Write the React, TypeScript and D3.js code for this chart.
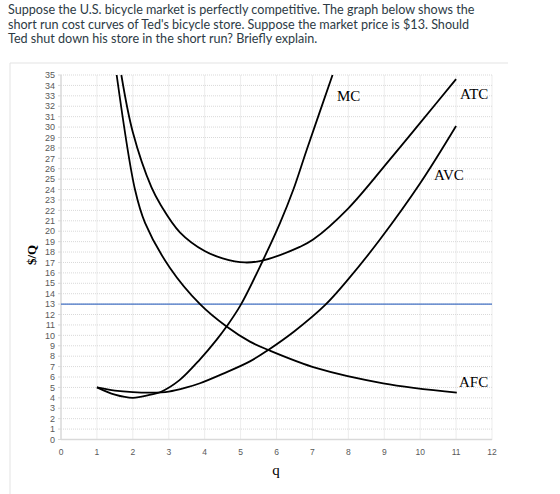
import React from "react";
import * as d3 from "d3";

const W = 560;
const H = 494;

const headerLines = [
  "Suppose the U.S. bicycle market is perfectly competitive. The graph below shows the",
  "short run cost curves of Ted's bicycle store. Suppose the market price is $13. Should",
  "Ted shut down his store in the short run? Briefly explain.",
];

const xTicks = [0, 1, 2, 3, 4, 5, 6, 7, 8, 9, 10, 11, 12];
const yTicks = [0, 1, 2, 3, 4, 5, 6, 7, 8, 9, 10, 11, 12, 13, 14, 15, 16, 17, 18, 19, 20, 21, 22, 23, 24, 25, 26, 27, 28, 29, 30, 31, 32, 33, 34, 35];

const marketPrice = 13;

const mcQ = [1, 1.5, 2, 2.5, 2.76, 3.3, 3.87, 4.33, 4.61, 5, 5.63, 6.1, 6.47, 6.84, 7.56];
const mcV = [5, 4.3, 4.0, 4.3, 4.54, 5.7, 7.7, 9.57, 10.85, 12.9, 17.26, 20.8, 24.0, 27.8, 35];

const avcQ = [1, 1.5, 2, 2.5, 3, 3.5, 3.87, 4.5, 5.26, 5.77, 6.5, 7.35, 8, 8.88, 10, 11];
const avcV = [5, 4.7, 4.55, 4.5, 4.6, 5.0, 5.4, 6.3, 7.5, 8.6, 10.4, 12.9, 15.4, 19.2, 24.6, 30.1];

const atcQ = [1.68, 2, 2.52, 2.78, 3.31, 4, 4.5, 5.12, 5.63, 6.65, 7.02, 8, 9.16, 10, 11];
const atcV = [35, 29.5, 24.2, 22.5, 19.9, 18.1, 17.4, 17.0, 17.2, 18.5, 19.2, 22.2, 26.9, 30.4, 34.6];

const afcQ = [1.55, 2.06, 2.34, 3.03, 3.87, 4.61, 5.26, 5.77, 7.12, 8.97, 11.02];
const afcV = [35, 24.0, 20.8, 16.5, 13, 10.85, 9.4, 8.6, 6.85, 5.4, 4.5];

const curveLabels = ["MC", "ATC", "AVC", "AFC"];

export default function App() {
  const x = d3.scaleLinear().domain([0, 12]).range([61, 492]);
  const y = d3.scaleLinear().domain([0, 35]).range([439.5, 75]);

  const line = d3
    .line<[number, number]>()
    .x((d) => x(d[0]))
    .y((d) => y(d[1]))
    .curve(d3.curveCatmullRom.alpha(0.5));

  const zip = (a: number[], b: number[]) => a.map((v, i) => [v, b[i]] as [number, number]);

  const series = [
    zip(mcQ, mcV),
    zip(atcQ, atcV),
    zip(avcQ, avcV),
    zip(afcQ, afcV),
  ];

  const labelPos: [number, number][] = [
    [337, 101],
    [460, 99],
    [434, 180],
    [459, 387],
  ];

  const grid = "#d9d9d9";
  const tickColor = "#595959";

  return (
    <svg
      width={W}
      height={H}
      style={{ position: "absolute", left: 0, top: 0, background: "#fff" }}
    >
      {headerLines.map((t, i) => (
        <text
          key={i}
          x={8}
          y={14 + i * 14.5}
          fontFamily="Lato"
          fontSize={12.6}
          fill="#2d3b45"
        >
          {t}
        </text>
      ))}
      {/* frame */}
      <line x1={10} x2={508} y1={63} y2={63} stroke="#e3e3e3" />
      <line x1={10} x2={10} y1={63} y2={494} stroke="#e3e3e3" />

      {/* gridlines */}
      {yTicks.slice(1).map((t) => (
        <line
          key={"h" + t}
          x1={x(0)}
          x2={x(12)}
          y1={y(t)}
          y2={y(t)}
          stroke={grid}
          strokeWidth={1}
          strokeDasharray="1,1"
        />
      ))}
      {xTicks.slice(1).map((t) => (
        <line
          key={"v" + t}
          x1={x(t)}
          x2={x(t)}
          y1={y(0)}
          y2={y(35)}
          stroke={grid}
          strokeWidth={1}
          strokeDasharray="1,1"
        />
      ))}

      {/* axes */}
      <line x1={x(0)} x2={x(12)} y1={y(0)} y2={y(0)} stroke="#d9d9d9" strokeWidth={1.5} />
      <line x1={x(0)} x2={x(0)} y1={y(0)} y2={y(35)} stroke="#d9d9d9" strokeWidth={1.5} />
      {yTicks.map((t) => (
        <g key={"yt" + t}>
          <line x1={x(0) - 3} x2={x(0)} y1={y(t)} y2={y(t)} stroke="#d9d9d9" />
          <text
            x={55}
            y={y(t) + 3.2}
            textAnchor="end"
            fontFamily="Liberation Sans"
            fontSize={9}
            fill={tickColor}
          >
            {t}
          </text>
        </g>
      ))}
      {xTicks.map((t) => (
        <text
          key={"xt" + t}
          x={x(t)}
          y={455}
          textAnchor="middle"
          fontFamily="Liberation Sans"
          fontSize={8.5}
          fill={tickColor}
        >
          {t}
        </text>
      ))}

      {/* axis titles */}
      <text
        transform="translate(36,255) rotate(-90)"
        textAnchor="middle"
        fontFamily="Liberation Serif"
        fontWeight="bold"
        fontSize={13}
        fill="#000"
      >
        $/Q
      </text>
      <text
        x={276}
        y={475}
        textAnchor="middle"
        fontFamily="Liberation Serif"
        fontSize={15}
        fill="#000"
      >
        q
      </text>

      {/* price line */}
      <line
        x1={x(0)}
        x2={x(12)}
        y1={y(marketPrice)}
        y2={y(marketPrice)}
        stroke="#4472c4"
        strokeWidth={1.3}
      />

      {/* curves */}
      {series.map((s, i) => (
        <path key={"c" + i} d={line(s) || ""} fill="none" stroke="#000" strokeWidth={1.8} />
      ))}
      {curveLabels.map((l, i) => (
        <text
          key={l}
          x={labelPos[i][0]}
          y={labelPos[i][1]}
          fontFamily="Liberation Serif"
          fontSize={15}
          fill="#000"
        >
          {l}
        </text>
      ))}
    </svg>
  );
}
